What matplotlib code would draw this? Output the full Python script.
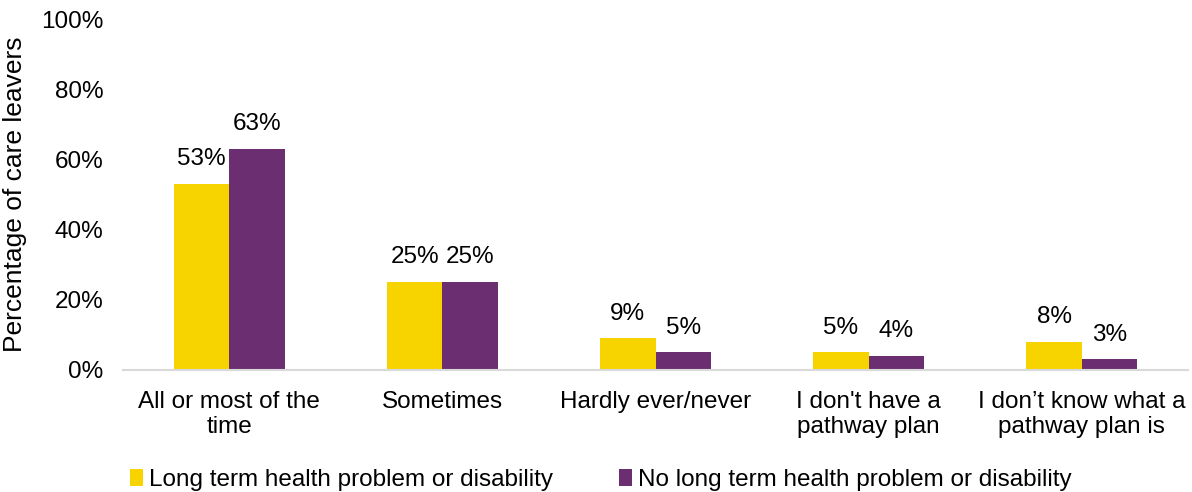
import numpy as np
import matplotlib.pyplot as plt

plt.rcParams['font.family'] = ['Liberation Sans', 'DejaVu Sans']

categories = ["All or most of the\ntime", "Sometimes", "Hardly ever/never",
              "I don't have a\npathway plan", "I don\u2019t know what a\npathway plan is"]
health = [53, 25, 9, 5, 8]
no_health = [63, 25, 5, 4, 3]
series_names = ["Long term health problem or disability",
                "No long term health problem or disability"]

yellow = '#F7D300'
purple = '#6B2F71'
fs = 17.5

fig = plt.figure(figsize=(11.92, 4.92), dpi=100)
ax = fig.add_axes([0.103, 0.248, 0.894, 0.713])

x = np.arange(len(categories))
w = 0.26
b1 = ax.bar(x - w/2, health, w, color=yellow, label=series_names[0])
b2 = ax.bar(x + w/2, no_health, w, color=purple, label=series_names[1])

for bars, vals in ((b1, health), (b2, no_health)):
    for bar, v in zip(bars, vals):
        ax.annotate(f"{v}%", (bar.get_x() + bar.get_width()/2, v),
                    xytext=(0, 10), textcoords='offset points',
                    ha='center', va='bottom', fontsize=fs)

ax.set_xlim(-0.5, len(categories) - 0.5)
ax.set_ylim(0, 100)
ax.set_yticks(range(0, 101, 20))
ax.set_yticklabels([f"{t}%" for t in range(0, 101, 20)], fontsize=fs)
ax.set_xticks(x)
ax.set_xticklabels(categories, fontsize=fs, linespacing=1.18)
ax.tick_params(axis='both', length=0)
ax.tick_params(axis='x', pad=15)
ax.tick_params(axis='y', pad=14)
ax.set_ylabel("Percentage of care leavers", fontsize=19, labelpad=10)

for s in ['top', 'right', 'left']:
    ax.spines[s].set_visible(False)
ax.spines['bottom'].set_color('#D9D9D9')
ax.spines['bottom'].set_linewidth(1.5)

fig.legend(handles=[b1, b2], loc='center left', bbox_to_anchor=(0.109, 0.025),
           ncol=2, frameon=False, fontsize=fs, handlelength=0.55,
           handleheight=0.7, handletextpad=0.25, columnspacing=2.7,
           borderaxespad=0, borderpad=0)

fig.savefig('out.png', dpi=100)
